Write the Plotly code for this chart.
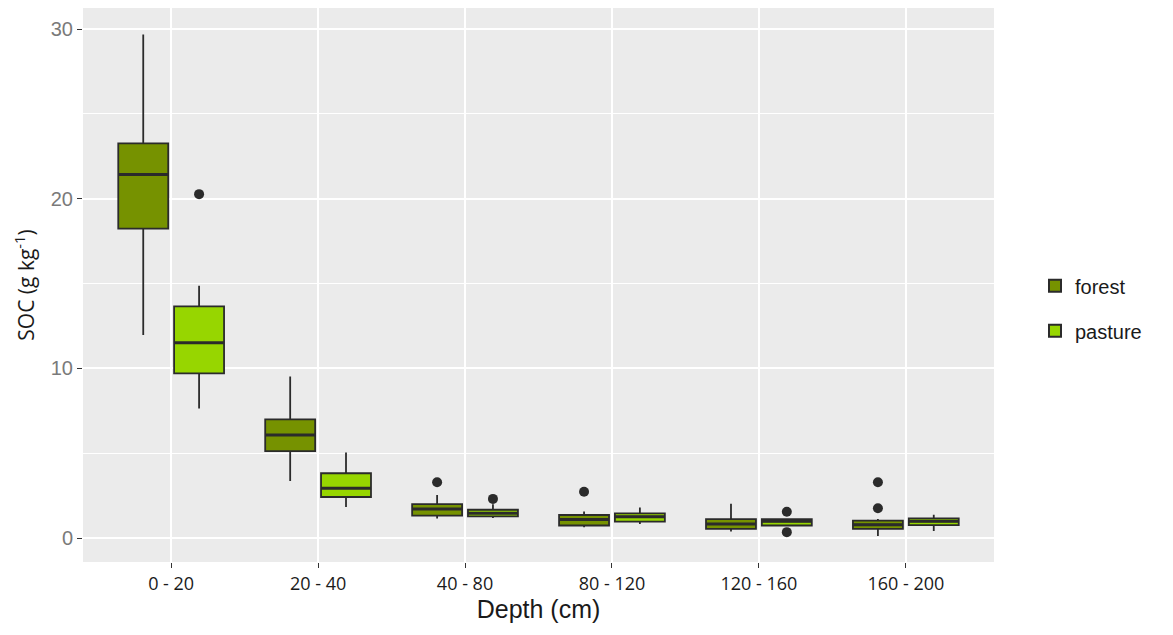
import plotly.graph_objects as go

depths = ["0 - 20", "20 - 40", "40 - 80", "80 - 120", "120 - 160", "160 - 200"]
positions = [0, 1, 2, 3, 4, 5]

forest_lower = [11.97, 3.36, 1.16, 0.64, 0.39, 0.12]
forest_q1 = [18.24, 5.13, 1.32, 0.74, 0.54, 0.54]
forest_median = [21.43, 6.07, 1.72, 1.10, 0.83, 0.79]
forest_q3 = [23.26, 7.00, 2.00, 1.36, 1.12, 1.03]
forest_upper = [29.68, 9.52, 2.54, 1.57, 2.03, 1.12]
forest_out_pos = [2, 3, 5, 5]
forest_out_val = [3.29, 2.73, 3.29, 1.76]

pasture_lower = [7.63, 1.83, 1.18, 0.83, 0.74, 0.41]
pasture_q1 = [9.71, 2.42, 1.28, 0.97, 0.74, 0.76]
pasture_median = [11.51, 2.94, 1.47, 1.26, 0.99, 0.99]
pasture_q3 = [13.66, 3.82, 1.67, 1.45, 1.12, 1.16]
pasture_upper = [14.87, 5.04, 2.00, 1.80, 1.16, 1.38]
pasture_out_pos = [0, 2, 4, 4]
pasture_out_val = [20.27, 2.31, 1.55, 0.35]

offset = 0.19
bw = 0.34
line_col = "#2b2b2b"
forest_col = "#769200"
pasture_col = "#97d600"

fig = go.Figure()


def add_group(name, sign, color, lower, q1, med, q3, upper, out_pos, out_val):
    xs = [p + sign * offset for p in positions]
    fig.add_trace(go.Box(
        name=name, x=xs, legendgroup=name,
        q1=q1, median=med, q3=q3, lowerfence=lower, upperfence=upper,
        width=bw, fillcolor=color, line=dict(color=line_col, width=1.8),
        boxpoints=False, whiskerwidth=0, hoverinfo="skip",
    ))
    # thicker median bars (ggplot style)
    mx, my = [], []
    for x, m in zip(xs, med):
        mx += [x - bw / 2, x + bw / 2, None]
        my += [m, m, None]
    fig.add_trace(go.Scatter(
        x=mx, y=my, mode="lines", line=dict(color=line_col, width=3),
        showlegend=False, hoverinfo="skip", legendgroup=name,
    ))
    fig.add_trace(go.Scatter(
        x=[p + sign * offset for p in out_pos], y=out_val, mode="markers",
        marker=dict(color=line_col, size=10), showlegend=False, hoverinfo="skip",
        legendgroup=name,
    ))


add_group("forest", -1, forest_col, forest_lower, forest_q1, forest_median,
          forest_q3, forest_upper, forest_out_pos, forest_out_val)
add_group("pasture", 1, pasture_col, pasture_lower, pasture_q1, pasture_median,
          pasture_q3, pasture_upper, pasture_out_pos, pasture_out_val)

fig.update_layout(
    width=1173, height=635,
    margin=dict(l=83, r=179, t=8, b=73),
    paper_bgcolor="white", plot_bgcolor="#EBEBEB",
    font=dict(family="Liberation Sans, Arial, sans-serif", color="#333333"),
    showlegend=True,
    legend=dict(x=1.045, y=0.458, xanchor="left", yanchor="middle",
                font=dict(size=20, color="#1a1a1a"), bgcolor="rgba(0,0,0,0)",
                itemsizing="constant", tracegroupgap=16),
    xaxis=dict(
        range=[-0.6, 5.6], tickmode="array", tickvals=positions, ticktext=depths,
        showgrid=True, gridcolor="white", gridwidth=2, zeroline=False,
        ticks="outside", ticklen=5, tickcolor="#333333", tickwidth=1,
        tickfont=dict(size=18, color="#1a1a1a", family="Open Sans, sans-serif"),
        title=dict(text="Depth (cm)", font=dict(size=25, color="#1a1a1a"), standoff=6),
        showline=False,
    ),
    yaxis=dict(
        range=[-1.41, 31.24], tickmode="array", tickvals=[0, 10, 20, 30],
        showgrid=True, gridcolor="white", gridwidth=2, zeroline=False,
        ticks="outside", ticklen=5, tickcolor="#333333", tickwidth=1,
        tickfont=dict(size=20, color="#7a7a7a"),
        minor=dict(tickvals=[5, 15, 25], showgrid=True, gridcolor="white", gridwidth=1, ticks=""),
        title=dict(text="SOC (g kg<sup>-1</sup>)", font=dict(size=21, color="#1a1a1a",
                   family="Open Sans, sans-serif"), standoff=10),
        showline=False,
    ),
)

fig.write_html("out.html")
